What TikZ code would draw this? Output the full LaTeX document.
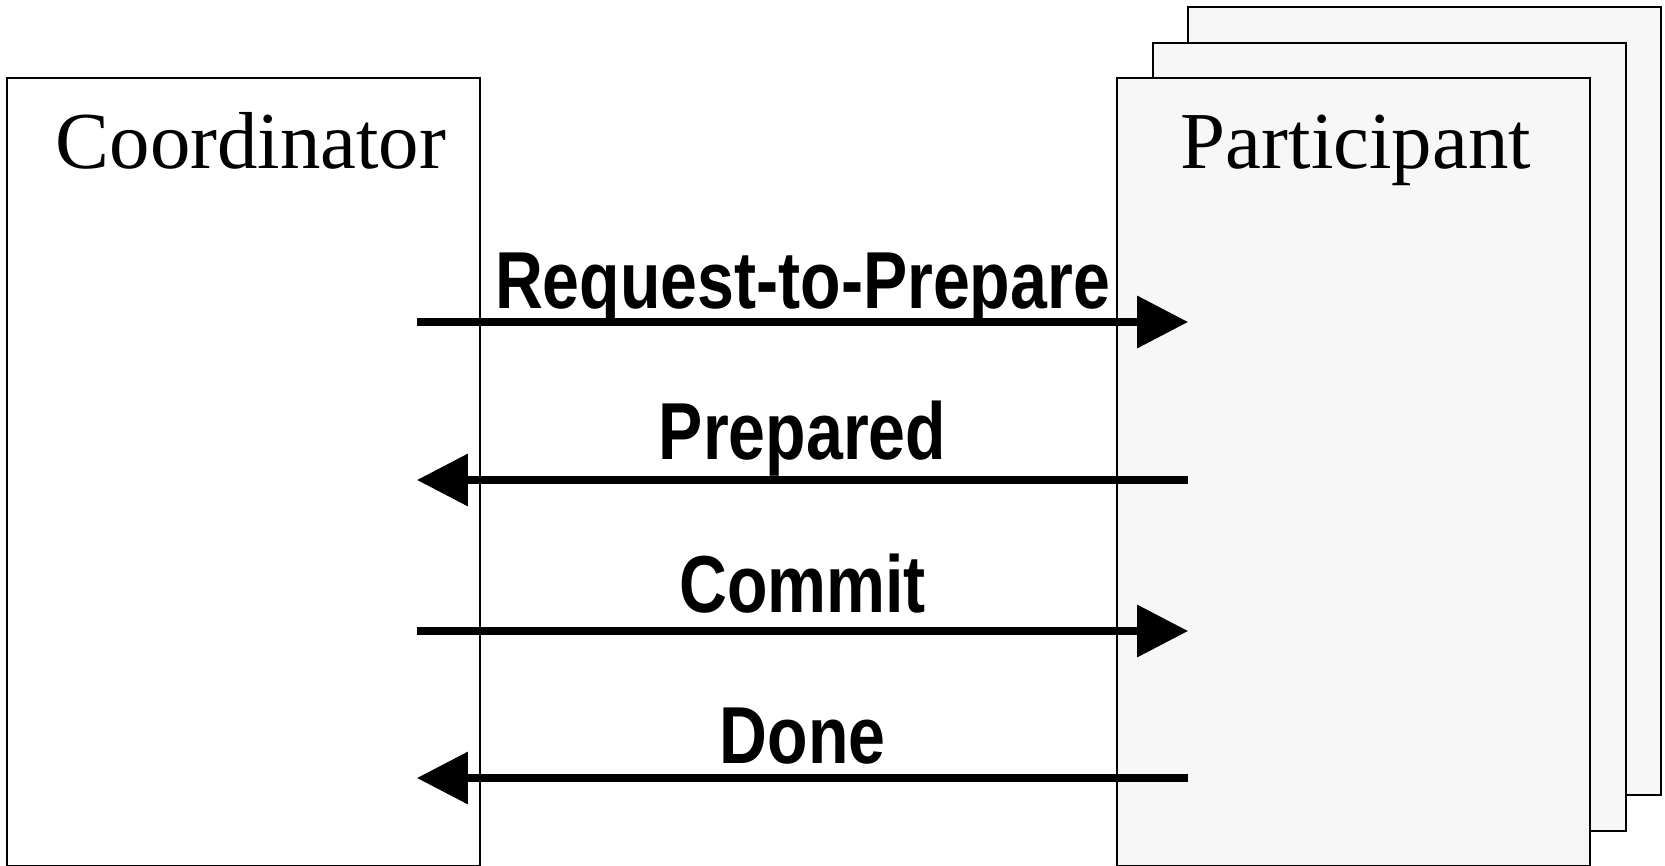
\documentclass[tikz,border=0pt]{standalone}
\usepackage{fontspec}
\usepackage{xcolor}
\setmainfont{Liberation Serif}
\newfontfamily\msgfont[FakeStretch=0.82]{Liberation Sans}
\usetikzlibrary{arrows.meta}
\definecolor{paper}{HTML}{F7F7F7}

\begin{document}
\begin{tikzpicture}[
  x=0.02cm, y=-0.02cm,
  every node/.style={inner sep=0pt, outer sep=0pt},
  box/.style={draw, line width=1.3pt, anchor=north west,
    minimum width=9.46cm, minimum height=15.76cm},
  title/.style={anchor=base, font=\fontsize{46}{50}\selectfont},
  msg/.style={line width=4pt, -{Triangle[length=1.02cm, width=1.02cm]}},
  lbl/.style={anchor=base, font=\msgfont\bfseries\fontsize{46}{50}\selectfont}
]
  \useasboundingbox (0,0) rectangle (1665,865);

  % the two sides
  \node[box, fill=white] (coordinator) at (7,78) {};
  \node[box, fill=paper] (participant3) at (1188,7) {};
  \node[box, fill=paper] (participant2) at (1153,43) {};
  \node[box, fill=paper] (participant) at (1117,78) {};

  \node[title] (coordtitle) at (251,168) {Coordinator};
  \node[title] (parttitle) at (1356,168) {Participant};

  % message ends
  \coordinate (c1) at (417,322);
  \coordinate (p1) at (1188,322);
  \coordinate (c2) at (417,480);
  \coordinate (p2) at (1188,480);
  \coordinate (c3) at (417,631);
  \coordinate (p3) at (1188,631);
  \coordinate (c4) at (417,778);
  \coordinate (p4) at (1188,778);

  \draw[msg] (c1) -- node[lbl, yshift=0.28cm] (req) {Request-to-Prepare} (p1);
  \draw[msg] (p2) -- node[lbl, yshift=0.42cm] (prep) {Prepared} (c2);
  \draw[msg] (c3) -- node[lbl, yshift=0.38cm] (com) {Commit} (p3);
  \draw[msg] (p4) -- node[lbl, yshift=0.30cm] (done) {Done} (c4);
\end{tikzpicture}
\end{document}
